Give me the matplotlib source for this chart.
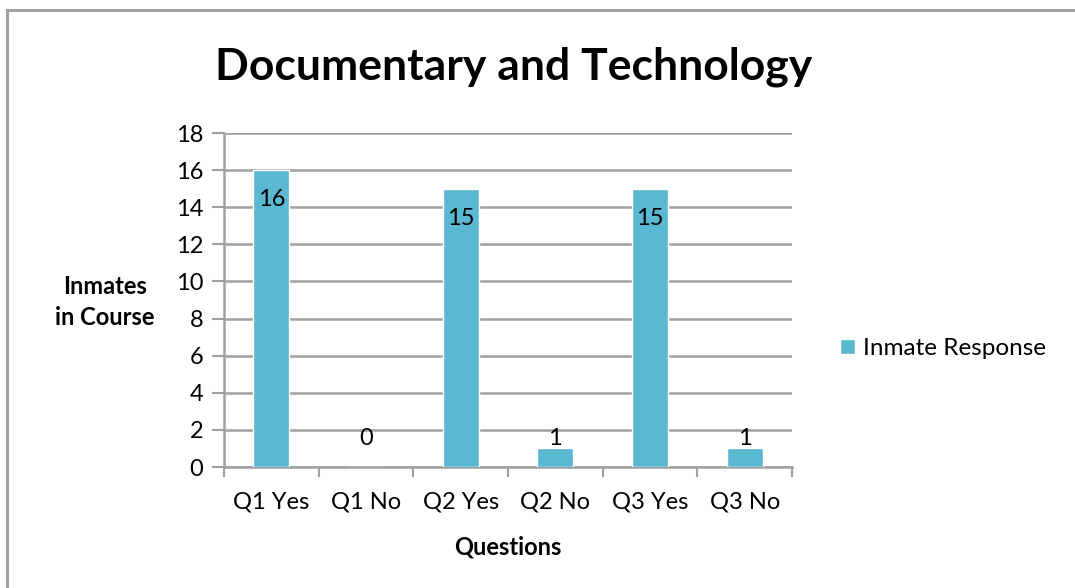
import matplotlib.pyplot as plt
from matplotlib.patches import Rectangle

categories = ['Q1 Yes', 'Q1 No', 'Q2 Yes', 'Q2 No', 'Q3 Yes', 'Q3 No']
responses = [16, 0, 15, 1, 15, 1]
yticks = [0, 2, 4, 6, 8, 10, 12, 14, 16, 18]

plt.rcParams['font.family'] = ['Lato', 'DejaVu Sans']
grey = '#a0a0a0'
bar_col = '#5bb8d3'

fig = plt.figure(figsize=(10.75, 5.88), dpi=100)
fig.patches.append(Rectangle((7/1075, -0.1), 1.2, 1 - 10/588 + 0.1, transform=fig.transFigure,
                             fill=False, edgecolor=grey, linewidth=2.2))

ax = fig.add_axes([224/1075, 1 - 467/588, (792 - 224)/1075, (467 - 133)/588])
x = range(len(categories))
ax.bar(x, responses, width=0.38, color=bar_col, edgecolor='white', linewidth=1,
       label='Inmate Response', zorder=3)

for i, v in enumerate(responses):
    ypos = max(v - 1.6, 1.55)
    ax.text(i, ypos, str(v), ha='center', va='center', fontsize=17, zorder=4)

ax.set_xlim(-0.5, len(categories) - 0.5)
ax.set_ylim(0, 18)
ax.set_yticks(yticks)
ax.set_xticks(list(x))
ax.set_xticklabels(categories)
ax.set_xticks([i - 0.5 for i in range(len(categories) + 1)], minor=True)
ax.tick_params(axis='x', which='major', length=0, labelsize=17, pad=18)
ax.tick_params(axis='x', which='minor', length=7, width=1.5, color=grey, direction='out')
ax.tick_params(axis='y', length=9, width=1.5, color=grey, labelsize=17, pad=6)
ax.yaxis.grid(True, color=grey, linewidth=1.8, zorder=0)
for s in ['top', 'right']:
    ax.spines[s].set_visible(False)
for s in ['left', 'bottom']:
    ax.spines[s].set_color(grey)
    ax.spines[s].set_linewidth(1.8)

ax.set_xlabel('Questions', fontsize=17, fontweight='bold', labelpad=16)
fig.text(105/1075, 1 - 302/588, 'Inmates\nin Course', ha='center', va='center',
         fontsize=17, fontweight='bold', linespacing=1.45)

fig.suptitle('Documentary and Technology', x=514/1075, y=1 - 67/588, va='center',
             fontsize=32, fontweight='bold')

ax.legend(loc='center left', bbox_to_anchor=(1.046, 0.355), frameon=False, fontsize=17.5,
          handlelength=0.6, handleheight=0.6, handletextpad=0.35)

fig.savefig('out.png', dpi=100)
